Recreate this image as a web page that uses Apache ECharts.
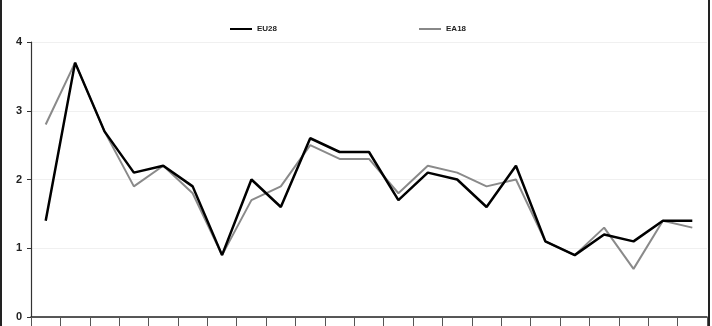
<!DOCTYPE html>
<html>
<head>
<meta charset="utf-8">
<script src="https://cdn.jsdelivr.net/npm/echarts@6/dist/echarts.min.js"></script>
<style>
  html, body { margin: 0; padding: 0; background: #fff; }
  #chart { width: 712px; height: 326px; }
</style>
</head>
<body>
<div id="chart"></div>
<script>
const categories = ['1','2','3','4','5','6','7','8','9','10','11','12','13','14','15','16','17','18','19','20','21','22','23'];
const eu28 = [1.4, 3.7, 2.7, 2.1, 2.2, 1.9, 0.9, 2.0, 1.6, 2.6, 2.4, 2.4, 1.7, 2.1, 2.0, 1.6, 2.2, 1.1, 0.9, 1.2, 1.1, 1.4, 1.4];
const ea18 = [2.8, 3.7, 2.7, 1.9, 2.2, 1.8, 0.9, 1.7, 1.9, 2.5, 2.3, 2.3, 1.8, 2.2, 2.1, 1.9, 2.0, 1.1, 0.9, 1.3, 0.7, 1.4, 1.3];
const yTicks = [0, 1, 2, 3, 4];

const chart = echarts.init(document.getElementById('chart'), null, { renderer: 'canvas' });
chart.setOption({
  animation: false,
  backgroundColor: '#fff',
  textStyle: { fontFamily: 'Liberation Sans, Arial, sans-serif' },
  legend: {
    top: 20,
    left: 225,
    itemGap: 142,
    itemWidth: 22,
    itemHeight: 10,
    icon: 'path://M0,4 L22,4 L22,6 L0,6 Z',
    textStyle: { fontSize: 8, color: '#222', fontWeight: 'bold', fontFamily: 'Liberation Sans, Arial, sans-serif' },
    data: [
      { name: 'EU28', itemStyle: { color: '#000' } },
      { name: 'EA18', itemStyle: { color: '#888' } }
    ]
  },
  grid: { left: 31, right: 5, top: 42, bottom: 9, containLabel: false },
  xAxis: {
    type: 'category',
    data: categories,
    boundaryGap: true,
    axisLine: { lineStyle: { color: '#222', width: 1.5 } },
    axisTick: { show: true, length: 10, lineStyle: { color: '#555', width: 1 } },
    axisLabel: { show: false },
    splitLine: { show: false }
  },
  yAxis: {
    type: 'value',
    min: yTicks[0],
    max: yTicks[yTicks.length - 1],
    interval: 1,
    axisLine: { show: true, lineStyle: { color: '#333', width: 1.2 } },
    axisTick: { show: true, length: 4, lineStyle: { color: '#333' } },
    axisLabel: { fontSize: 11, color: '#222', fontWeight: 'bold', margin: 9 },
    splitLine: { show: true, lineStyle: { color: '#f0f0f0', width: 1 } }
  },
  series: [
    {
      name: 'EU28', type: 'line', data: eu28, symbol: 'none', z: 3,
      lineStyle: { color: '#000', width: 2.5 }, itemStyle: { color: '#000' }
    },
    {
      name: 'EA18', type: 'line', data: ea18, symbol: 'none', z: 2,
      lineStyle: { color: '#8a8a8a', width: 2 }, itemStyle: { color: '#8a8a8a' }
    }
  ],
  graphic: [
    { type: 'rect', left: 0, top: 0, shape: { width: 2, height: 326 }, style: { fill: '#222' } },
    { type: 'rect', left: 708, top: 0, shape: { width: 2, height: 326 }, style: { fill: '#222' } }
  ]
});
</script>
</body>
</html>
